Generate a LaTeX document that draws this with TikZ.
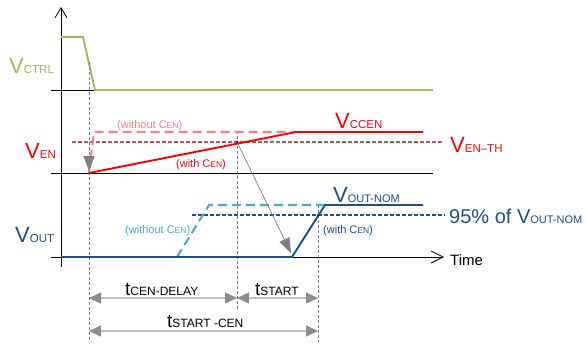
\documentclass[tikz,border=0pt]{standalone}
\usepackage{fontspec}
\setmainfont{Liberation Sans}
\usetikzlibrary{positioning, arrows.meta, calc}
\definecolor{cCtrl}     {HTML}{9BBB59}
\definecolor{cEn}       {HTML}{FF0000}
\definecolor{cEnLight}  {HTML}{FF7C80}
\definecolor{cEnTh}     {HTML}{C85050}
\definecolor{cOut}      {HTML}{1F4E8C}
\definecolor{cOutLight} {HTML}{4BACC6}
\definecolor{cGuide}    {HTML}{808080}
\definecolor{cDimLine}  {HTML}{BFBFBF}
\definecolor{cDimTip}   {HTML}{8C8C8C}
\newcommand{\sigLabel}[4]{{\fontsize{#1}{#1}\selectfont #3}{\fontsize{#2}{#2}\selectfont #4}}
\tikzset{
  axisline/.style={draw=black, line width=0.8pt},
  sigline/.style={line width=1.9pt},
  sigdash/.style={line width=2.1pt, dash pattern=on 9pt off 5pt},
  thline/.style={line width=1.2pt, dash pattern=on 4pt off 2pt},
  guide/.style={draw=cGuide, line width=1pt, dash pattern=on 3pt off 2pt},
  dimline/.style={draw=cDimLine, line width=1.5pt,
    {Triangle[length=12pt,width=11pt,color=cDimTip]}-{Triangle[length=12pt,width=11pt,color=cDimTip]}},
  pointer/.style={draw=cGuide, -{Triangle[length=15pt,width=11pt,color=cGuide]}},
  lbl/.style={anchor=base west, inner sep=0pt},
  crossdot/.style={circle, fill=black!80, minimum size=3pt, inner sep=0pt},
}
\begin{document}
\begin{tikzpicture}[x=1pt, y=-1pt]
  \useasboundingbox (0,0) rectangle (586,343);
  % axes
  \coordinate (axTop) at (61,7);
  \coordinate (axBot) at (61,267);
  \draw[axisline, -{Straight Barb[length=10pt,width=12pt]}] (axBot) -- (axTop);
  \foreach \n/\y/\xe in {ctrl/90/433, en/173/433}{
    \coordinate (\n L) at (51,\y);
    \coordinate (\n R) at (\xe,\y);
    \draw[axisline] (\n L) -- (\n R);
  }
  \coordinate (outL) at (51,257);
  \coordinate (outR) at (444,257);
  \draw[axisline, -{Straight Barb[length=12pt,width=12pt]}] (outL) -- (outR);
  \node[lbl, font=\fontsize{15}{15}\selectfont] (time) at (450,265) {Time};
  % guide lines
  \coordinate (gA) at (89,62);
  \coordinate (gAb) at (89,342);
  \coordinate (gB) at (237,131);
  \coordinate (gBb) at (237,310);
  \coordinate (gC) at (318,205);
  \coordinate (gCb) at (318,342);
  \draw[guide] (gA) -- (gAb);
  \draw[guide] (gB) -- (gBb);
  \draw[guide] (gC) -- (gCb);
  % V_CTRL
  \coordinate (c1) at (61,37);
  \coordinate (c2) at (83,37);
  \coordinate (c3) at (95,90);
  \coordinate (c4) at (433,90);
  \draw[sigline, cCtrl] (c1) -- (c2) -- (c3) -- (c4);
  \node[lbl, text=cCtrl] (vctrl) at (9,73) {\sigLabel{22}{11.5}{V}{CTRL}};
  % V_EN
  \coordinate (e1) at (89,173);
  \coordinate (e2) at (296,132);
  \coordinate (e3) at (423,132);
  \coordinate (p1) at (94,132);
  \coordinate (thL) at (72,142);
  \coordinate (thR) at (443,142);
  \draw[thline, cEnTh] (thL) -- (thR);
  \draw[sigdash, cEnLight] (e1) -- (p1) -- (e2);
  \draw[sigline, cEn] (e1) -- (e2) -- (e3);
  \node[crossdot] (xEn) at (237,142) {};
  \node[lbl, text=cEn] (ven) at (25,158) {\sigLabel{22}{11.5}{V}{EN}};
  \node[lbl, text=cEn] (vccen) at (335,128) {\sigLabel{22}{11.5}{V}{CCEN}};
  \node[lbl, text=cEn] (venth) at (450,152) {\sigLabel{22}{11.5}{V}{EN--TH}};
  \node[lbl, text=cEnLight] (enWo) at (117,128) {\sigLabel{11}{8.5}{(without C}{EN}\fontsize{11}{11}\selectfont)};
  \node[lbl, text=cEn] (enW) at (176,167) {\sigLabel{11}{8.5}{(with C}{EN}\fontsize{11}{11}\selectfont)};
  % V_OUT
  \coordinate (o1) at (61,257);
  \coordinate (o2) at (292,257);
  \coordinate (o3) at (325,205);
  \coordinate (o4) at (423,205);
  \coordinate (q1) at (177,257);
  \coordinate (q2) at (209,205);
  \coordinate (nomL) at (192,215);
  \coordinate (nomR) at (445,215);
  \draw[thline, cOut] (nomL) -- (nomR);
  \draw[sigdash, cOutLight] (q1) -- (q2) -- (o3);
  \draw[sigline, cOut] (o1) -- (o2) -- (o3) -- (o4);
  \node[crossdot] (xOut) at (318,215) {};
  \node[lbl, text=cOut] (vout) at (15,242) {\sigLabel{22}{11.5}{V}{OUT}};
  \node[lbl, text=cOut] (vnom) at (333,202) {\sigLabel{22}{11}{V}{OUT-NOM}};
  \node[lbl, text=cOut] (pct) at (449,223) {\sigLabel{20}{11}{95\% of V}{OUT-NOM}};
  \node[lbl, text=cOutLight] (outWo) at (125,233) {\sigLabel{11}{8.5}{(without C}{EN}\fontsize{11}{11}\selectfont)};
  \node[lbl, text=cOut] (outW) at (323,233) {\sigLabel{11}{8.5}{(with C}{EN}\fontsize{11}{11}\selectfont)};
  % pointers
  \coordinate (pA) at (89,171);
  \coordinate (pB) at (291,253);
  \draw[pointer, line width=1pt, dash pattern=on 3pt off 2pt] (gA) -- (pA);
  \draw[pointer, line width=0.7pt] (xEn) -- (pB);
  % timing dimensions
  \coordinate (d1) at (89,298);
  \coordinate (d2) at (237,298);
  \coordinate (d3) at (318,298);
  \coordinate (d4) at (89,331);
  \coordinate (d5) at (318,331);
  \draw[dimline] (d1) -- (d2);
  \draw[dimline] (d2) -- (d3);
  \draw[dimline] (d4) -- (d5);
  \node[lbl] (tdelay) at (125,295) {\sigLabel{19}{12}{t}{CEN-DELAY}};
  \node[lbl] (tstart) at (255,295) {\sigLabel{19}{12}{t}{START}};
  \node[lbl] (tsc) at (167,327) {\sigLabel{19}{12}{t}{START -CEN}};
\end{tikzpicture}
\end{document}
